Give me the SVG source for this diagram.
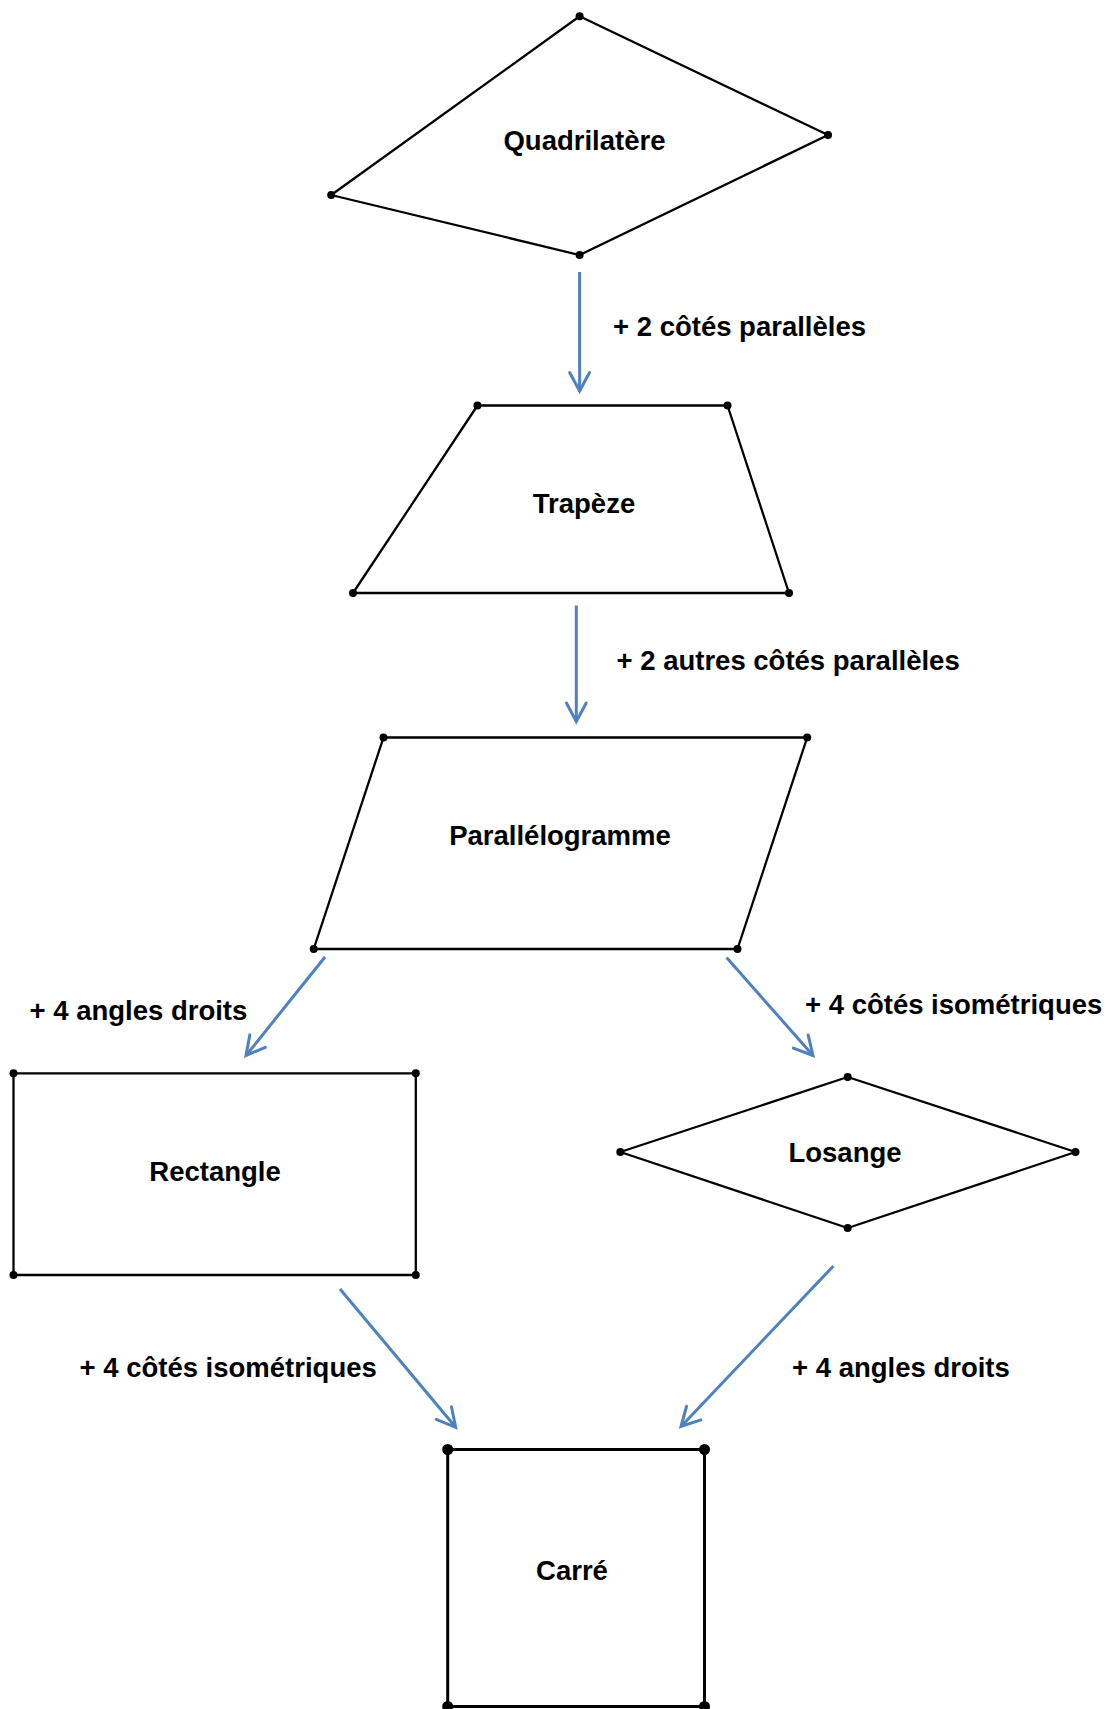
<svg xmlns="http://www.w3.org/2000/svg" width="1109" height="1709" viewBox="0 0 1109 1709">
  <style>
    .shape { fill: none; stroke: #000; stroke-width: 2.3; stroke-linejoin: round; }
    .shape.thick { stroke-width: 3; }
    .dot { fill: #000; }
    .name { font-family: "Liberation Sans", Arial, sans-serif; font-weight: bold; font-size: 27.5px; fill: #000; text-anchor: middle; }
    .rule { font-family: "Liberation Sans", Arial, sans-serif; font-weight: bold; font-size: 27.5px; fill: #000; }
    .arrow { fill: none; stroke: #4F81BD; stroke-width: 3; marker-end: url(#chevron); }
  </style>
  <defs>
    <marker id="chevron" markerUnits="userSpaceOnUse" markerWidth="26" markerHeight="26" viewBox="0 0 26 26" refX="21" refY="13" orient="auto" overflow="visible">
      <path d="M 2.5 3.1 L 21 13 L 2.5 22.9" fill="none" stroke="#4F81BD" stroke-width="3" stroke-linejoin="miter" stroke-linecap="round"/>
    </marker>
  </defs>

  <rect width="1109" height="1709" fill="#fff"/>

  <!-- Connectors with their rule labels -->
  <g id="connectors">
    <g id="quad-to-trap">
      <line class="arrow" x1="579.6" y1="272" x2="579.6" y2="391"/>
      <text class="rule" x="613" y="336">+ 2 côtés parallèles</text>
    </g>
    <g id="trap-to-para">
      <line class="arrow" x1="576.3" y1="605.5" x2="576.3" y2="721.5"/>
      <text class="rule" x="616.5" y="670">+ 2 autres côtés parallèles</text>
    </g>
    <g id="para-to-rect">
      <line class="arrow" x1="325" y1="957" x2="246" y2="1055.5"/>
      <text class="rule" x="29.5" y="1020">+ 4 angles droits</text>
    </g>
    <g id="para-to-losange">
      <line class="arrow" x1="726.6" y1="957.5" x2="813" y2="1055.5"/>
      <text class="rule" x="805" y="1014">+ 4 côtés isométriques</text>
    </g>
    <g id="rect-to-carre">
      <line class="arrow" x1="340" y1="1289" x2="455.7" y2="1427.3"/>
      <text class="rule" x="79.5" y="1377">+ 4 côtés isométriques</text>
    </g>
    <g id="losange-to-carre">
      <line class="arrow" x1="833.4" y1="1266" x2="681" y2="1426.5"/>
      <text class="rule" x="792" y="1377">+ 4 angles droits</text>
    </g>
  </g>

  <!-- Quadrilatère -->
  <g id="quadrilatere">
    <polygon class="shape" points="579.6,16.3 828,135 579.6,255 331.2,195"/>
    <circle class="dot" cx="579.6" cy="16.3" r="4"/>
    <circle class="dot" cx="828" cy="135" r="4"/>
    <circle class="dot" cx="579.6" cy="255" r="4"/>
    <circle class="dot" cx="331.2" cy="195" r="4"/>
    <text class="name" x="584.5" y="150">Quadrilatère</text>
  </g>

  <!-- Trapèze -->
  <g id="trapeze">
    <polygon class="shape" points="477.5,405.5 727.5,405.5 789,593 353,593"/>
    <circle class="dot" cx="477.5" cy="405.5" r="4"/>
    <circle class="dot" cx="727.5" cy="405.5" r="4"/>
    <circle class="dot" cx="789" cy="593" r="4"/>
    <circle class="dot" cx="353" cy="593" r="4"/>
    <text class="name" x="584" y="513">Trapèze</text>
  </g>

  <!-- Parallélogramme -->
  <g id="parallelogramme">
    <polygon class="shape" points="383.5,737.5 807.2,737.5 737.5,949 313.7,949"/>
    <circle class="dot" cx="383.5" cy="737.5" r="4"/>
    <circle class="dot" cx="807.2" cy="737.5" r="4"/>
    <circle class="dot" cx="737.5" cy="949" r="4"/>
    <circle class="dot" cx="313.7" cy="949" r="4"/>
    <text class="name" x="560" y="845">Parallélogramme</text>
  </g>

  <!-- Rectangle -->
  <g id="rectangle">
    <polygon class="shape" points="13.5,1073.3 415.8,1073.3 415.8,1275 13.5,1275"/>
    <circle class="dot" cx="13.5" cy="1073.3" r="4"/>
    <circle class="dot" cx="415.8" cy="1073.3" r="4"/>
    <circle class="dot" cx="415.8" cy="1275" r="4"/>
    <circle class="dot" cx="13.5" cy="1275" r="4"/>
    <text class="name" x="215" y="1180.5">Rectangle</text>
  </g>

  <!-- Losange -->
  <g id="losange">
    <polygon class="shape" points="847.7,1077 1075.5,1152 847.7,1228 620.3,1152"/>
    <circle class="dot" cx="847.7" cy="1077" r="4"/>
    <circle class="dot" cx="1075.5" cy="1152" r="4"/>
    <circle class="dot" cx="847.7" cy="1228" r="4"/>
    <circle class="dot" cx="620.3" cy="1152" r="4"/>
    <text class="name" x="845" y="1161.5">Losange</text>
  </g>

  <!-- Carré -->
  <g id="carre">
    <polygon class="shape thick" points="447.7,1449.5 704.5,1449.5 704.5,1706.5 447.7,1706.5"/>
    <circle class="dot" cx="447.7" cy="1449.5" r="5.5"/>
    <circle class="dot" cx="704.5" cy="1449.5" r="5.5"/>
    <circle class="dot" cx="704.5" cy="1706.5" r="5.5"/>
    <circle class="dot" cx="447.7" cy="1706.5" r="5.5"/>
    <text class="name" x="572" y="1580">Carré</text>
  </g>
</svg>
